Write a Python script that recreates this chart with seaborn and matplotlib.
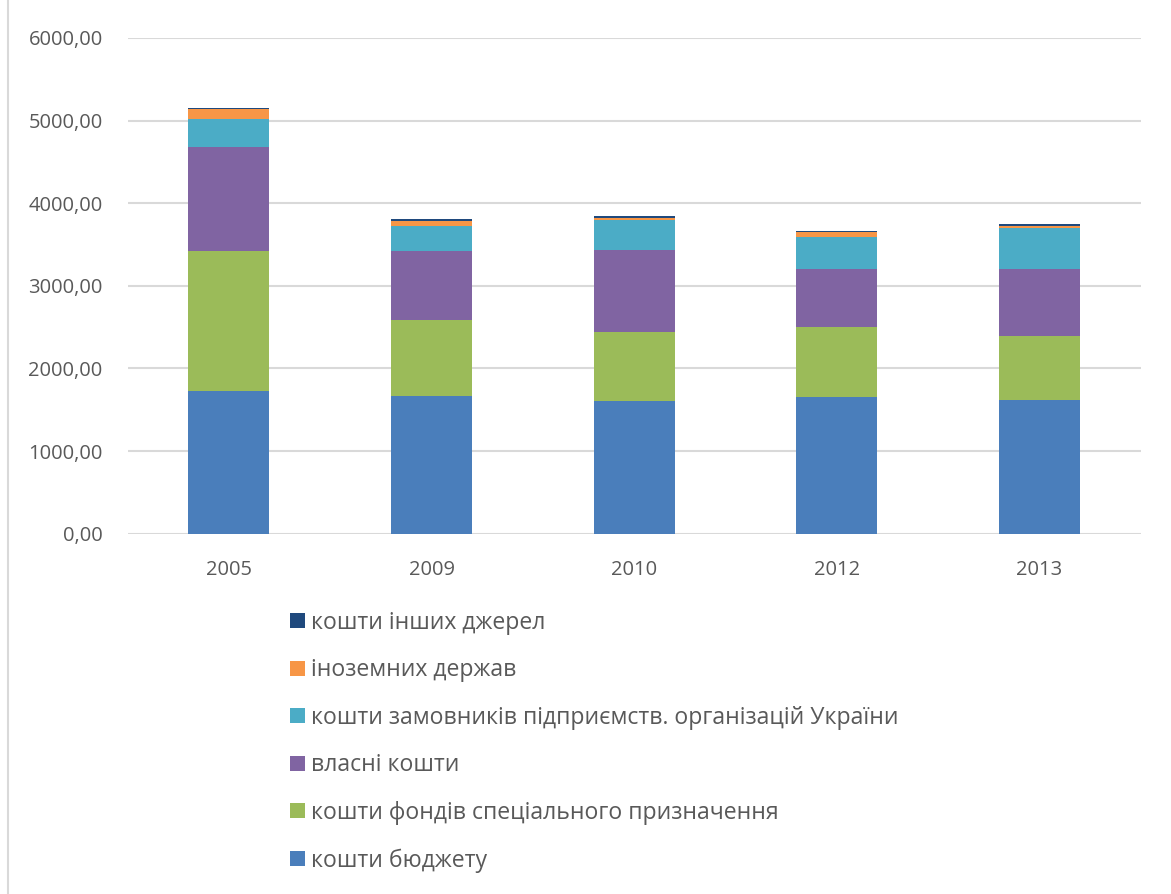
import numpy as np
import pandas as pd
import matplotlib
matplotlib.use("Agg")
import matplotlib.pyplot as plt
import seaborn as sns
from matplotlib.patches import Patch

years = ["2005", "2009", "2010", "2012", "2013"]
budget = [1730, 1670, 1610, 1655, 1620]
special_funds = [1690, 915, 833, 849, 775]
own_funds = [1255, 838, 992, 701, 810]
customers = [340, 306, 367, 384, 493]
foreign = [125, 61, 20, 61, 28]
other = [12, 20, 21, 19, 24]

series_names = [
    "кошти бюджету",
    "кошти фондів спеціального призначення",
    "власні кошти",
    "кошти замовників підприємств. організацій України",
    "іноземних держав",
    "кошти інших джерел",
]
series_values = [budget, special_funds, own_funds, customers, foreign, other]
colors = ["#4A7EBB", "#9BBB59", "#8064A2", "#4BACC6", "#F79646", "#1F497D"]

sns.set_theme(style="white")
plt.rcParams["font.family"] = ["Open Sans", "DejaVu Sans"]

fig = plt.figure(figsize=(11.71, 8.94), dpi=100)
ax = fig.add_axes([0.109, 0.403, 0.865, 0.5545])

bottom = np.zeros(len(years))
for name, vals, col in zip(series_names, series_values, colors):
    df = pd.DataFrame({"year": years, "value": vals})
    sns.barplot(data=df, x="year", y="value", color=col, width=0.4,
                bottom=bottom, ax=ax, saturation=1, edgecolor="none", linewidth=0)
    bottom = bottom + np.array(vals)

ax.set_ylim(0, 6000)
ax.set_yticks(np.arange(0, 6001, 1000))
ax.set_yticklabels([f"{v:.2f}".replace(".", ",") for v in np.arange(0, 6001, 1000)])
ax.yaxis.grid(True, color="#D9D9D9", linewidth=1.5)
ax.set_axisbelow(True)
for s in ax.spines.values():
    s.set_visible(False)
ax.set_xlabel("")
ax.set_ylabel("")
ax.tick_params(axis="both", colors="#595959", labelsize=14.5, length=0)
ax.tick_params(axis="y", pad=18)
ax.tick_params(axis="x", pad=19)

handles = [Patch(facecolor=c, edgecolor="none") for c in colors][::-1]
labels = series_names[::-1]
leg = fig.legend(handles, labels, loc="upper left", bbox_to_anchor=(0.240, 0.327),
                 frameon=False, fontsize=16.6, labelspacing=1.02, handlelength=0.64,
                 handleheight=0.64, handletextpad=0.25, borderaxespad=0)
for t in leg.get_texts():
    t.set_color("#595959")

fig.add_artist(plt.Line2D([0.007, 0.007], [0, 1], transform=fig.transFigure,
                          color="#D9D9D9", linewidth=1.5))

fig.savefig("out.png", dpi=100)
